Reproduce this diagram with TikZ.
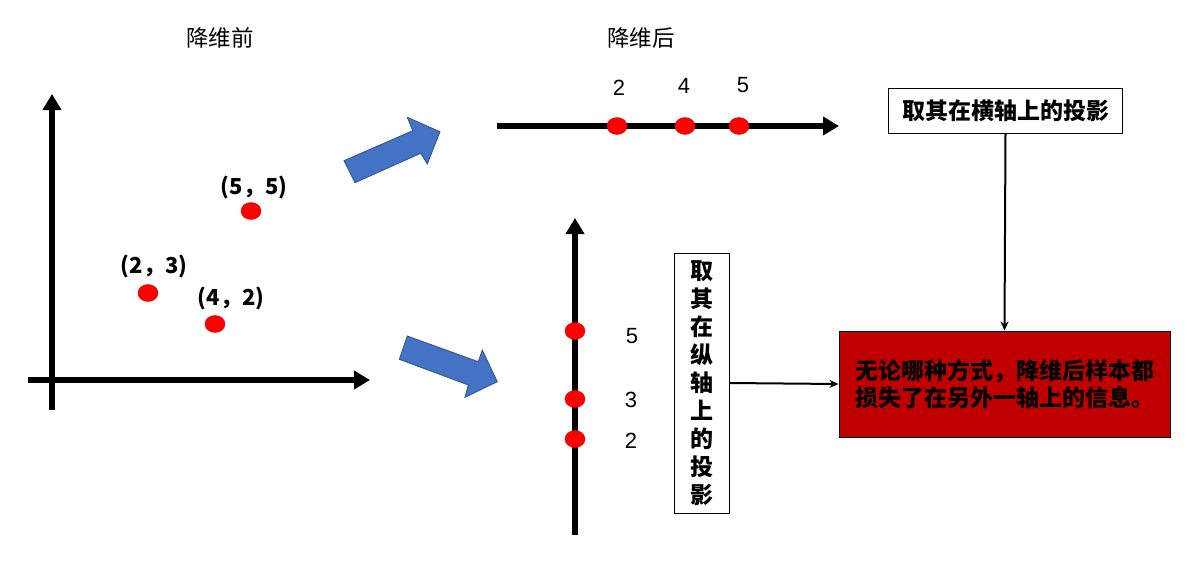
\documentclass[tikz,border=0pt]{standalone}
\usepackage{fontspec}
\setmainfont{Liberation Sans}
\newfontfamily\cjk{Noto Sans CJK SC}
\usetikzlibrary{arrows.meta,shapes.geometric}
\definecolor{arrblue}{HTML}{4472C4}
\definecolor{arredge}{HTML}{2F528F}
\definecolor{darkred}{HTML}{C00000}
\tikzset{
  axis/.style={line width=6pt,-{Triangle[length=16pt,width=18pt]}},
  dot/.style={ellipse,fill=red,draw=red!85!black,line width=0.4pt,minimum width=20pt,minimum height=17pt,inner sep=0pt},
  title/.style={font=\cjk\fontsize{22.5}{26}\selectfont},
  coord/.style={font=\cjk\bfseries\fontsize{22}{26}\selectfont},
  num/.style={font=\fontsize{22}{26}\selectfont},
  textbox/.style={draw=black,line width=1pt,fill=white,font=\cjk\bfseries\fontsize{23}{28}\selectfont,inner sep=0pt},
  link/.style={line width=2pt,-{Stealth[length=9pt,width=8pt]}},
  bigarrow/.style={fill=arrblue,draw=arredge,line width=0.8pt,line join=miter}
}
\begin{document}
\begin{tikzpicture}[x=1pt,y=-1pt]
\useasboundingbox (0,0) rectangle (1187,568);
% titles
\node[title] (t1) at (220,38) {降维前};
\node[title] (t2) at (641,38) {降维后};
% left axes
\coordinate (yb) at (52,410);
\coordinate (yt) at (52,94);
\coordinate (xl) at (28,380);
\coordinate (xr) at (370,380);
\draw[axis] (yb) -- (yt);
\draw[axis] (xl) -- (xr);
% points
\node[dot] (p23) at (148,293) {};
\node[dot] (p42) at (215,324) {};
\node[dot] (p55) at (251,211) {};
\node[coord] (l55) at (254,187) {(5，5)};
\node[coord] (l23) at (154,266) {(2，3)};
\node[coord] (l42) at (231,298) {(4，2)};
% blue arrows
\draw[bigarrow] (344,160.7) -- (355,182.7) -- (420.7,153.3) -- (427.3,164) -- (440,131.7) -- (407.3,117.3) -- (412.7,130.7) -- cycle;
\draw[bigarrow] (407.3,336) -- (399.3,359.3) -- (468.3,385) -- (465,397.3) -- (497.3,381.7) -- (482.3,350) -- (478.3,361.7) -- cycle;
% top axis
\coordinate (hl) at (497,126);
\coordinate (hr) at (839,126);
\draw[axis] (hl) -- (hr);
\node[dot] (h2) at (617,126) {};
\node[dot] (h4) at (685,126) {};
\node[dot] (h5) at (739,126) {};
\node[num] (nh2) at (619,88) {2};
\node[num] (nh4) at (684,86) {4};
\node[num] (nh5) at (743,85) {5};
% vertical axis
\coordinate (vb) at (575,535);
\coordinate (vt) at (575,218);
\draw[axis] (vb) -- (vt);
\node[dot] (v5) at (575,331) {};
\node[dot] (v3) at (575,399) {};
\node[dot] (v2) at (575,439) {};
\node[num] (nv5) at (632,336) {5};
\node[num] (nv3) at (631,400) {3};
\node[num] (nv2) at (631,441) {2};
% boxes
\node[textbox,minimum width=234pt,minimum height=45pt] (hbox) at (1005.5,110.5) {取其在横轴上的投影};
\node[textbox,minimum width=55pt,minimum height=260pt,align=center] (vbox) at (701.5,383) {取\\其\\在\\纵\\轴\\上\\的\\投\\影};
\node[draw=black,line width=1pt,fill=darkred,minimum width=331pt,minimum height=106pt,align=left,inner sep=0pt,font=\cjk\bfseries\fontsize{23}{27}\selectfont] (red) at (1004.5,384) {无论哪种方式，降维后样本都\\损失了在另外一轴上的信息。};
% links
\draw[link] (hbox.south) -- (red.north);
\draw[link] (vbox.east) -- (red.west);
\end{tikzpicture}
\end{document}
